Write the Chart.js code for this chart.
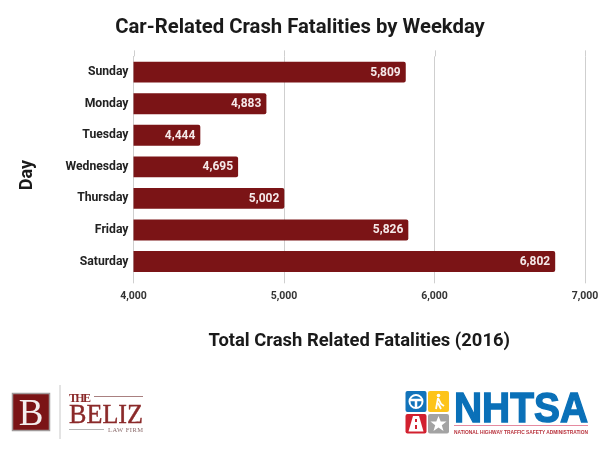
<!DOCTYPE html>
<html lang="en">
<head>
    <meta charset="UTF-8">
    <title>Car-Related Crash Fatalities by Weekday</title>
    <script src="https://cdn.jsdelivr.net/npm/chart.js@4/dist/chart.umd.min.js"></script>
    <style>
        html, body { margin: 0; padding: 0; background: #fff; }
        #wrap { position: relative; width: 600px; height: 458px; overflow: hidden; }
        #myChart { position: absolute; left: 0; top: 0; }
        svg { position: absolute; left: 0; top: 0; }
    </style>
</head>
<body>
    <div id="wrap">
        <canvas id="myChart" width="600" height="458"></canvas>
        <svg width="600" height="458" viewBox="0 0 600 458">
            <!-- law firm logo -->
            <rect x="12.5" y="393.5" width="37" height="37" fill="#7b1416" stroke="#a09a9a" stroke-width="1.5"/>
            <text x="31" y="425" text-anchor="middle" font-family="Liberation Serif" font-size="37" fill="#f4eeee">B</text>
            <line x1="60" y1="385" x2="60" y2="439" stroke="#c8c8c8" stroke-width="1"/>
            <text x="69" y="401.5" font-family="Liberation Serif" font-size="12" font-weight="bold" fill="#8b2a2a" textLength="22">THE</text>
            <line x1="94" y1="396.5" x2="143" y2="396.5" stroke="#a98080" stroke-width="1"/>
            <text x="69" y="423" font-family="Liberation Serif" font-size="27" fill="#8b2a2a" stroke="#8b2a2a" stroke-width="0.4" textLength="74" lengthAdjust="spacingAndGlyphs">BELIZ</text>
            <line x1="69" y1="429.5" x2="104" y2="429.5" stroke="#b5b5b5" stroke-width="1"/>
            <text x="108" y="432" font-family="Liberation Serif" font-size="6.5" fill="#8a6a6a" textLength="35">LAW FIRM</text>
            <!-- nhtsa logo -->
            <rect x="405.5" y="391" width="21" height="21" rx="2" fill="#1273ba"/>
            <circle cx="416" cy="401.5" r="6.5" fill="none" stroke="#fff" stroke-width="2"/>
            <path d="M410 400 L422 400 M416 400 L416 407" fill="none" stroke="#fff" stroke-width="2.5"/>
            <rect x="428" y="391" width="21" height="21" rx="2" fill="#fdc41a"/>
            <circle cx="438.5" cy="395.5" r="1.8" fill="#fff"/>
            <path d="M438 398 L441 404 L444 406 M438 398 L436 409 M438 403 L441 409" fill="none" stroke="#fff" stroke-width="1.8"/>
            <rect x="405.5" y="414" width="21" height="19.5" rx="2" fill="#d2202f"/>
            <path d="M413 416 L419 416 L423.5 431.5 L408.5 431.5 Z" fill="#fff"/>
            <rect x="415" y="419" width="2" height="3" fill="#d2202f"/>
            <rect x="415" y="425" width="2" height="4" fill="#d2202f"/>
            <rect x="428" y="414" width="21" height="19.5" rx="2" fill="#a3a3a3"/>
            <path d="M438.5 416 L440.7 421.5 L446.5 421.5 L441.8 425.2 L443.5 431 L438.5 427.5 L433.5 431 L435.2 425.2 L430.5 421.5 L436.3 421.5 Z" fill="#fff"/>
            <text x="454" y="422" font-family="Liberation Sans" font-size="43" font-weight="bold" fill="#0a70b8" stroke="#0a70b8" stroke-width="1.4" textLength="134" lengthAdjust="spacingAndGlyphs">NHTSA</text>
            <line x1="454" y1="425.5" x2="588" y2="425.5" stroke="#e58aa0" stroke-width="1.2"/>
            <text x="454" y="434" font-family="Liberation Sans" font-size="5.5" font-weight="bold" fill="#b8323c" textLength="134" lengthAdjust="spacingAndGlyphs">NATIONAL HIGHWAY TRAFFIC SAFETY ADMINISTRATION</text>
        </svg>
    </div>

    <script>
        const days = ['Sunday', 'Monday', 'Tuesday', 'Wednesday', 'Thursday', 'Friday', 'Saturday']
        const fatalities = [5809, 4883, 4444, 4695, 5002, 5826, 6802]
        const xTicks = [4000, 5000, 6000, 7000]

        // gridlines run a little past the top of the bars, "Day" sits below the axis middle
        const extras = {
            id: 'extras',
            beforeDatasetsDraw(chart) {
                const ctx = chart.ctx
                const top = chart.chartArea.top
                ctx.save()
                ctx.strokeStyle = '#cfcfcf'
                xTicks.forEach(v => {
                    const x = Math.round(chart.scales.x.getPixelForValue(v)) + 0.5
                    ctx.beginPath()
                    ctx.moveTo(x, top - 6)
                    ctx.lineTo(x, top)
                    ctx.stroke()
                })
                ctx.restore()
            },
            afterDraw(chart) {
                const ctx = chart.ctx
                ctx.save()
                ctx.translate(27, 175)
                ctx.rotate(-Math.PI / 2)
                ctx.font = 'bold 18px Roboto'
                ctx.fillStyle = '#1a1a1a'
                ctx.textAlign = 'center'
                ctx.textBaseline = 'middle'
                ctx.fillText('Day', 0, 0)
                ctx.restore()
            }
        }

        // white value labels inside the bar ends
        const barLabels = {
            id: 'barLabels',
            afterDatasetsDraw(chart) {
                const ctx = chart.ctx
                ctx.save()
                ctx.font = 'bold 12px Roboto'
                ctx.fillStyle = '#f5e9e9'
                ctx.textAlign = 'right'
                ctx.textBaseline = 'middle'
                chart.getDatasetMeta(0).data.forEach((bar, i) => {
                    ctx.fillText(fatalities[i].toLocaleString('en-US'), bar.x - 5, bar.y + 0.5)
                })
                ctx.restore()
            }
        }

        new Chart(document.getElementById('myChart').getContext('2d'), {
            type: 'bar',
            data: {
                labels: days,
                datasets: [{
                    data: fatalities,
                    backgroundColor: '#7b1416',
                    borderRadius: 2,
                    borderSkipped: false,
                    categoryPercentage: 0.66,
                    barPercentage: 1
                }]
            },
            plugins: [extras, barLabels],
            options: {
                indexAxis: 'y',
                responsive: false,
                animation: false,
                layout: { padding: { top: 16, left: 15, right: 15, bottom: 106 } },
                plugins: {
                    legend: { display: false },
                    tooltip: { enabled: false },
                    title: {
                        display: true,
                        text: 'Car-Related Crash Fatalities by Weekday',
                        color: '#1a1a1a',
                        font: { family: 'Roboto', size: 20.3, weight: 'bold' },
                        padding: { top: 0, bottom: 16 }
                    }
                },
                scales: {
                    x: {
                        min: 4000,
                        max: 7000,
                        afterBuildTicks(axis) { axis.ticks = xTicks.map(v => ({ value: v })) },
                        // tick labels may hang past the plot edge
                        afterFit(axis) { axis.paddingLeft = 0; axis.paddingRight = 0 },
                        grid: { color: '#cfcfcf', drawTicks: true, tickLength: 6, tickColor: '#cfcfcf' },
                        border: { display: false },
                        ticks: {
                            color: '#333',
                            font: { family: 'Roboto', size: 10.5, weight: 'bold' },
                            maxRotation: 0,
                            padding: 6.5,
                            callback: v => v.toLocaleString('en-US')
                        },
                        title: {
                            display: true,
                            text: 'Total Crash Related Fatalities (2016)',
                            color: '#1a1a1a',
                            font: { family: 'Roboto', size: 18.4, weight: 'bold' },
                            padding: { top: 21, bottom: 0 }
                        }
                    },
                    y: {
                        afterFit(axis) { axis.width = 118.5 },
                        grid: { display: false, drawTicks: false },
                        border: { color: '#cfcfcf' },
                        ticks: {
                            color: '#222',
                            font: { family: 'Roboto', size: 12.2, weight: 'bold' },
                            padding: 5
                        }
                    }
                }
            }
        })
    </script>
</body>
</html>
